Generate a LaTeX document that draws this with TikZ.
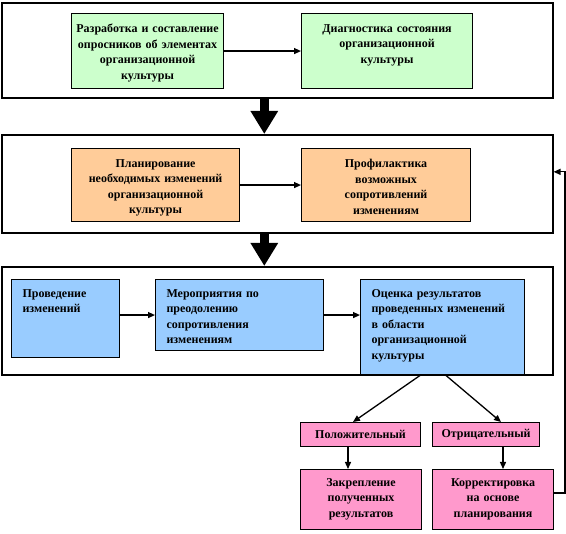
\documentclass[tikz,border=0pt]{standalone}
\usepackage{fontspec}
\setmainfont{Liberation Serif}
\usetikzlibrary{arrows.meta,positioning,calc}
\definecolor{boxgreen}{HTML}{CCFFCC}
\definecolor{boxorange}{HTML}{FFCC99}
\definecolor{boxblue}{HTML}{99CCFF}
\definecolor{boxpink}{HTML}{FF99CC}
\begin{document}
\begin{tikzpicture}[x=1pt,y=-1pt,
  frame/.style={draw, line width=1.6pt, anchor=north west, inner sep=0pt},
  box/.style={draw, line width=1.1pt, anchor=north west, inner sep=0pt},
  txt/.style={font=\bfseries\fontsize{12}{15.5}\selectfont, inner sep=0pt, anchor=north},
  link/.style={line width=1.3pt, -{Triangle[length=7pt,width=6pt]}},
  bigarrow/.style={line width=9pt, -{Triangle[length=23pt,width=26pt]}}]
\useasboundingbox (0,0) rectangle (566,534);
% Frames
\node[frame, minimum width=551pt, minimum height=95pt] (f1) at (1,2) {};
\node[frame, minimum width=551pt, minimum height=98pt] (f2) at (1,134) {};
\node[frame, minimum width=551pt, minimum height=108pt] (f3) at (1,266) {};
% Stage 1
\node[box, fill=boxgreen, minimum width=152pt, minimum height=75pt] (dev) at (71,13) {};
\node[txt, text width=150pt, align=center] at ([yshift=-11pt]dev.north) {Разработка и составление\\опросников об элементах\\организационной\\культуры};
\node[box, fill=boxgreen, minimum width=171pt, minimum height=75pt] (diag) at (301,13) {};
\node[txt, text width=165pt, align=center] at ([yshift=-11pt]diag.north) {Диагностика состояния\\организационной\\культуры};
% Stage 2
\node[box, fill=boxorange, minimum width=168pt, minimum height=73pt] (plan) at (71,148) {};
\node[txt, text width=165pt, align=center] at ([yshift=-11pt]plan.north) {Планирование\\необходимых изменений\\организационной\\культуры};
\node[box, fill=boxorange, minimum width=169pt, minimum height=73pt] (prof) at (301,148) {};
\node[txt, text width=165pt, align=center] at ([yshift=-11pt]prof.north) {Профилактика\\возможных\\сопротивлений\\изменениям};
% Stage 3
\node[box, fill=boxblue, minimum width=108pt, minimum height=78pt] (run) at (11,279) {};
\node[txt, text width=86pt, align=left] at ([yshift=-10pt]run.north) {Проведение\\изменений};
\node[box, fill=boxblue, minimum width=168pt, minimum height=71pt] (act) at (155,279) {};
\node[txt, text width=146pt, align=left] at ([yshift=-10pt]act.north) {Мероприятия по\\преодолению\\сопротивления\\изменениям};
\node[box, fill=boxblue, minimum width=164pt, minimum height=95pt] (eval) at (360,279) {};
\node[txt, text width=142pt, align=left] at ([yshift=-10pt]eval.north) {Оценка результатов\\проведенных изменений\\в области\\организационной\\культуры};
% Results
\node[box, fill=boxpink, minimum width=120pt, minimum height=24pt] (pos) at (300,422) {};
\node[txt, anchor=center] at (pos.center) {Положительный};
\node[box, fill=boxpink, minimum width=107pt, minimum height=24pt] (neg) at (432,422) {};
\node[txt, anchor=center] at (neg.center) {Отрицательный};
\node[box, fill=boxpink, minimum width=121pt, minimum height=60pt] (fix) at (300,469) {};
\node[txt, text width=115pt, align=center] at ([yshift=-9pt]fix.north) {Закрепление\\полученных\\результатов};
\node[box, fill=boxpink, minimum width=121pt, minimum height=60pt] (corr) at (432,469) {};
\node[txt, text width=115pt, align=center] at ([yshift=-9pt]corr.north) {Корректировка\\на основе\\планирования};
% Arrows inside frames
\draw[link] (dev) -- (diag);
\draw[link] (plan) -- (prof);
\draw[link] (run.east |- act) -- (act);
\draw[link] (act) -- (act -| eval.west);
% Thick arrows between frames
\draw[bigarrow] ([xshift=-13pt,yshift=1pt]f1.south) -- ([xshift=-13pt]f2.north);
\draw[bigarrow] ([xshift=-13pt,yshift=1pt]f2.south) -- ([xshift=-13pt]f3.north);
% Branches
\draw[link] ([xshift=-22pt]eval.south) -- (pos.north -| 353,0);
\draw[link] ([xshift=3pt]eval.south) -- (neg.north -| 501,0);
\draw[link] (pos.south -| 348,0) -- (fix.north -| 348,0);
\draw[link] (neg.south -| 503,0) -- (corr.north -| 503,0);
% Feedback
\coordinate (back) at (565,493);
\draw[link] (corr.east |- back) -- (back) |- ($(f2.north east)!0.38!(f2.south east)$);
\end{tikzpicture}
\end{document}
